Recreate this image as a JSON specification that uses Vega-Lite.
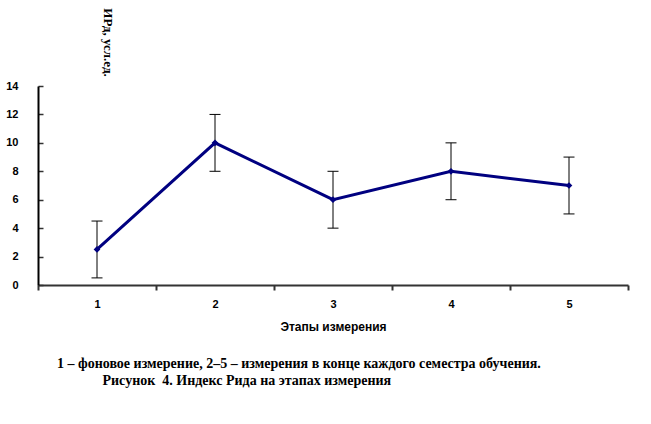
{
  "$schema": "https://vega.github.io/schema/vega-lite/v6.json",
  "width": 590,
  "height": 199,
  "autosize": "none",
  "padding": {"left": 38, "top": 86, "right": 23, "bottom": 139},
  "background": "white",
  "title": {
    "text": "1 – фоновое измерение, 2–5 – измерения в конце каждого семестра обучения.",
    "subtitle": "\u200b\u00a0\u00a0\u00a0\u00a0\u00a0\u00a0\u00a0\u00a0\u00a0\u00a0\u00a0\u00a0\u00a0Рисунок \u00a04. Индекс Рида на этапах измерения",
    "orient": "bottom",
    "anchor": "start",
    "frame": "group",
    "dx": 19,
    "offset": 25,
    "font": "Liberation Serif",
    "fontSize": 14,
    "fontWeight": "bold",
    "color": "black",
    "subtitleFont": "Liberation Serif",
    "subtitleFontSize": 14,
    "subtitleFontWeight": "bold",
    "subtitleColor": "black",
    "subtitlePadding": 3
  },
  "data": {
    "values": [
      {"stage": "1", "value": 2.5, "lo": 0.5, "hi": 4.5},
      {"stage": "2", "value": 10, "lo": 8, "hi": 12},
      {"stage": "3", "value": 6, "lo": 4, "hi": 8},
      {"stage": "4", "value": 8, "lo": 6, "hi": 10},
      {"stage": "5", "value": 7, "lo": 5, "hi": 9}
    ]
  },
  "encoding": {
    "x": {
      "field": "stage",
      "type": "ordinal",
      "scale": {"paddingInner": 0, "paddingOuter": 0},
      "axis": {
        "title": "Этапы измерения",
        "labelAngle": 0,
        "tickBand": "extent",
        "labelFont": "Liberation Sans",
        "labelFontSize": 11,
        "labelFontWeight": "bold",
        "labelColor": "black",
        "labelPadding": 8,
        "titleFont": "Liberation Sans",
        "titleFontSize": 12,
        "titleFontWeight": "bold",
        "titleColor": "black",
        "titlePadding": 12,
        "domainColor": "#333333",
        "domainWidth": 2,
        "tickColor": "#333333",
        "tickWidth": 2,
        "tickSize": 5
      }
    }
  },
  "layer": [
    {
      "mark": {
        "type": "errorbar",
        "color": "black",
        "opacity": 1,
        "ticks": {"size": 11, "color": "black", "strokeWidth": 1, "opacity": 1},
        "rule": {"color": "black", "strokeWidth": 1, "opacity": 1}
      },
      "encoding": {
        "y": {
          "field": "lo",
          "type": "quantitative",
          "scale": {"domain": [0, 14]},
          "axis": {"title": "ИРд, усл.ед.", "values": [0, 2, 4, 6, 8, 10, 12, 14]}
        },
        "y2": {"field": "hi"}
      }
    },
    {
      "mark": {
        "type": "line",
        "color": "#000080",
        "strokeWidth": 3,
        "point": {"shape": "diamond", "size": 45, "filled": true, "color": "#000080"}
      },
      "encoding": {
        "y": {
          "field": "value",
          "type": "quantitative",
          "scale": {"domain": [0, 14]},
          "axis": {"title": "ИРд, усл.ед.", "values": [0, 2, 4, 6, 8, 10, 12, 14]}
        }
      }
    }
  ],
  "config": {
    "view": {"stroke": null},
    "axisY": {
      "titleAngle": 90,
      "titleX": 69,
      "titleY": -44,
      "titleAlign": "center",
      "titleBaseline": "middle",
      "titleFont": "Liberation Serif",
      "titleFontSize": 13,
      "titleFontWeight": "bold",
      "titleColor": "black",
      "labelOverlap": false,
      "labelFlush": false,
      "grid": false,
      "labelFont": "Liberation Sans",
      "labelFontSize": 11,
      "labelFontWeight": "bold",
      "labelColor": "black",
      "labelPadding": 25,
      "tickSize": -5,
      "tickColor": "#333333",
      "tickWidth": 1.5,
      "domainColor": "black",
      "domainWidth": 2
    }
  }
}
